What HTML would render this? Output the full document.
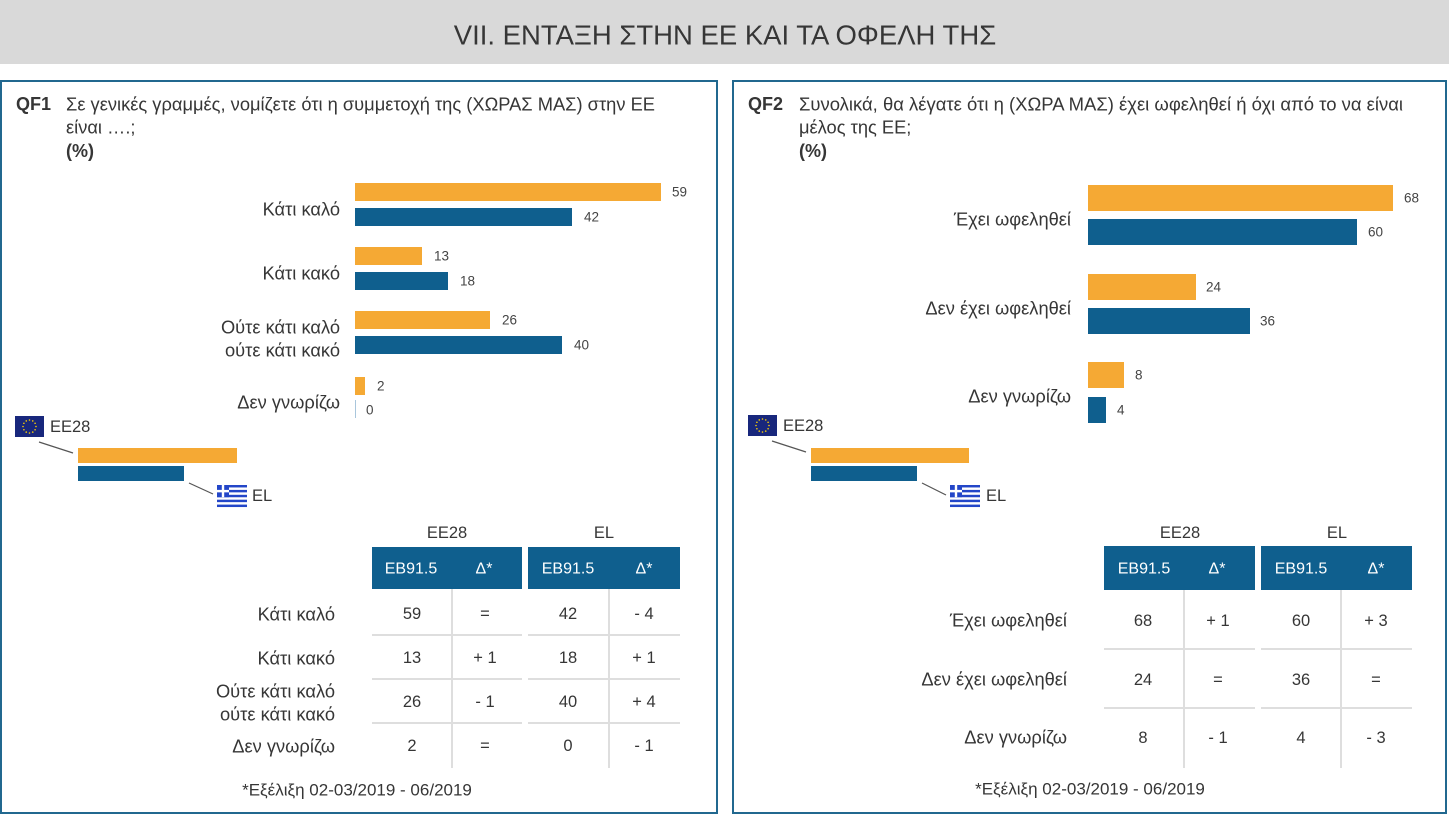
<!DOCTYPE html>
<html><head><meta charset="utf-8"><style>
html,body{margin:0;padding:0;background:#fff;}
body{width:1449px;height:815px;overflow:hidden;position:relative;}
svg{position:absolute;left:0;top:0;}
text{font-family:"Liberation Sans","DejaVu Sans",sans-serif;fill:#363636;}
.q{font-size:18.3px;}
.qb{font-size:18px;font-weight:bold;}
.b{font-weight:bold;}
.lab{font-size:18.3px;text-anchor:end;}
.val{font-size:13.5px;fill:#444;}
.tv{font-size:16.5px;text-anchor:middle;}
.th{font-size:16px;fill:#fff;text-anchor:middle;}
.fn{font-size:17px;text-anchor:middle;}
</style></head><body>
<svg width="1449" height="815" viewBox="0 0 1449 815" xmlns="http://www.w3.org/2000/svg">
<defs>
<g id="eu">
<rect x="0" y="0" width="29" height="21" fill="#18277c"/>
<g fill="#ffd200">
<circle cx="14.5" cy="4" r="0.8"/><circle cx="17.75" cy="4.9" r="0.8"/><circle cx="20.1" cy="7.25" r="0.8"/><circle cx="21" cy="10.5" r="0.8"/><circle cx="20.1" cy="13.75" r="0.8"/><circle cx="17.75" cy="16.1" r="0.8"/><circle cx="14.5" cy="17" r="0.8"/><circle cx="11.25" cy="16.1" r="0.8"/><circle cx="8.9" cy="13.75" r="0.8"/><circle cx="8" cy="10.5" r="0.8"/><circle cx="8.9" cy="7.25" r="0.8"/><circle cx="11.25" cy="4.9" r="0.8"/>
</g>
</g>
<g id="gr">
<rect x="0" y="0" width="30" height="22" fill="#fff"/>
<g fill="#2346c8">
<rect x="0" y="0" width="30" height="2.45"/><rect x="0" y="4.9" width="30" height="2.45"/><rect x="0" y="9.8" width="30" height="2.45"/><rect x="0" y="14.7" width="30" height="2.45"/><rect x="0" y="19.6" width="30" height="2.45"/>
<rect x="0" y="0" width="12" height="12.2"/>
</g>
<rect x="4.8" y="0" width="2.4" height="12.2" fill="#fff"/>
<rect x="0" y="4.9" width="12" height="2.45" fill="#fff"/>
</g>
</defs>

<!-- header -->
<rect x="0" y="0" width="1449" height="64" fill="#d9d9d9"/>
<text x="725" y="35" font-size="27.5" text-anchor="middle" dominant-baseline="central" fill="#333">VII. ΕΝΤΑΞΗ ΣΤΗΝ ΕΕ ΚΑΙ ΤΑ ΟΦΕΛΗ ΤΗΣ</text>

<!-- panels -->
<rect x="1" y="81" width="716" height="732" fill="none" stroke="#21688f" stroke-width="2"/>
<rect x="733" y="81" width="713" height="732" fill="none" stroke="#21688f" stroke-width="2"/>

<!-- LEFT PANEL -->
<text class="qb" x="16" y="104" dominant-baseline="central">QF1</text>
<text class="q" x="66" y="104" dominant-baseline="central" textLength="589" lengthAdjust="spacingAndGlyphs">Σε γενικές γραμμές, νομίζετε ότι η συμμετοχή της (ΧΩΡΑΣ ΜΑΣ) στην ΕΕ</text>
<text class="q" x="66" y="127" dominant-baseline="central">είναι ….;</text>
<text class="qb" x="66" y="151" dominant-baseline="central">(%)</text>

<rect x="355" y="183" width="306" height="18" fill="#f5a934"/>
<rect x="355" y="208" width="217" height="18" fill="#0f5f8e"/>
<rect x="355" y="247" width="67" height="18" fill="#f5a934"/>
<rect x="355" y="272" width="93" height="18" fill="#0f5f8e"/>
<rect x="355" y="311" width="135" height="18" fill="#f5a934"/>
<rect x="355" y="336" width="207" height="18" fill="#0f5f8e"/>
<rect x="355" y="377" width="10" height="18" fill="#f5a934"/>
<rect x="355" y="400" width="1" height="18" fill="#a9c6dc"/>

<text class="val" x="672" y="192" dominant-baseline="central">59</text>
<text class="val" x="584" y="217" dominant-baseline="central">42</text>
<text class="val" x="434" y="256" dominant-baseline="central">13</text>
<text class="val" x="460" y="281" dominant-baseline="central">18</text>
<text class="val" x="502" y="320" dominant-baseline="central">26</text>
<text class="val" x="574" y="345" dominant-baseline="central">40</text>
<text class="val" x="377" y="386" dominant-baseline="central">2</text>
<text class="val" x="366" y="410" dominant-baseline="central">0</text>

<text class="lab" x="340" y="209" dominant-baseline="central">Κάτι καλό</text>
<text class="lab" x="340" y="273" dominant-baseline="central">Κάτι κακό</text>
<text class="lab" x="340" y="327" dominant-baseline="central">Ούτε κάτι καλό</text>
<text class="lab" x="340" y="350" dominant-baseline="central">ούτε κάτι κακό</text>
<text class="lab" x="340" y="402" dominant-baseline="central">Δεν γνωρίζω</text>

<!-- left legend -->
<use href="#eu" x="15" y="416"/>
<text x="50" y="427" font-size="16.5" dominant-baseline="central">EE28</text>
<line x1="39" y1="442" x2="73" y2="453" stroke="#555" stroke-width="1.2"/>
<rect x="78" y="448" width="159" height="15" fill="#f5a934"/>
<rect x="78" y="466" width="106" height="15" fill="#0f5f8e"/>
<line x1="189" y1="483" x2="213" y2="494" stroke="#555" stroke-width="1.2"/>
<use href="#gr" x="217" y="485"/>
<text x="252" y="496" font-size="16.5" dominant-baseline="central">EL</text>

<!-- left table -->
<text class="tv" x="447" y="533" dominant-baseline="central">EE28</text>
<text class="tv" x="604" y="533" dominant-baseline="central">EL</text>
<rect x="372" y="547" width="150" height="42" fill="#0f5f8e"/>
<rect x="528" y="547" width="152" height="42" fill="#0f5f8e"/>
<text class="th" x="411" y="569" dominant-baseline="central">EB91.5</text>
<text class="th" x="484" y="569" dominant-baseline="central">Δ*</text>
<text class="th" x="568" y="569" dominant-baseline="central">EB91.5</text>
<text class="th" x="644" y="569" dominant-baseline="central">Δ*</text>
<g fill="#dedede">
<rect x="451" y="589" width="2" height="179"/>
<rect x="608" y="589" width="2" height="179"/>
<rect x="372" y="634" width="150" height="2"/><rect x="528" y="634" width="152" height="2"/>
<rect x="372" y="678" width="150" height="2"/><rect x="528" y="678" width="152" height="2"/>
<rect x="372" y="722" width="150" height="2"/><rect x="528" y="722" width="152" height="2"/>
</g>
<text class="lab" x="335" y="614" dominant-baseline="central">Κάτι καλό</text>
<text class="lab" x="335" y="658" dominant-baseline="central">Κάτι κακό</text>
<text class="lab" x="335" y="691" dominant-baseline="central">Ούτε κάτι καλό</text>
<text class="lab" x="335" y="714" dominant-baseline="central">ούτε κάτι κακό</text>
<text class="lab" x="335" y="746" dominant-baseline="central">Δεν γνωρίζω</text>

<text class="tv" x="412" y="614" dominant-baseline="central">59</text>
<text class="tv" x="485" y="614" dominant-baseline="central">=</text>
<text class="tv" x="568" y="614" dominant-baseline="central">42</text>
<text class="tv" x="644" y="614" dominant-baseline="central">- 4</text>
<text class="tv" x="412" y="658" dominant-baseline="central">13</text>
<text class="tv" x="485" y="658" dominant-baseline="central">+ 1</text>
<text class="tv" x="568" y="658" dominant-baseline="central">18</text>
<text class="tv" x="644" y="658" dominant-baseline="central">+ 1</text>
<text class="tv" x="412" y="702" dominant-baseline="central">26</text>
<text class="tv" x="485" y="702" dominant-baseline="central">- 1</text>
<text class="tv" x="568" y="702" dominant-baseline="central">40</text>
<text class="tv" x="644" y="702" dominant-baseline="central">+ 4</text>
<text class="tv" x="412" y="746" dominant-baseline="central">2</text>
<text class="tv" x="485" y="746" dominant-baseline="central">=</text>
<text class="tv" x="568" y="746" dominant-baseline="central">0</text>
<text class="tv" x="644" y="746" dominant-baseline="central">- 1</text>

<text class="fn" x="357" y="790" dominant-baseline="central">*Εξέλιξη 02-03/2019 - 06/2019</text>

<!-- RIGHT PANEL -->
<text class="qb" x="748" y="104" dominant-baseline="central">QF2</text>
<text class="q" x="799" y="104" dominant-baseline="central" textLength="604" lengthAdjust="spacingAndGlyphs">Συνολικά, θα λέγατε ότι η (ΧΩΡΑ ΜΑΣ) έχει ωφεληθεί ή όχι από το να είναι</text>
<text class="q" x="799" y="127" dominant-baseline="central">μέλος της ΕΕ;</text>
<text class="qb" x="799" y="151" dominant-baseline="central">(%)</text>

<rect x="1088" y="185" width="305" height="26" fill="#f5a934"/>
<rect x="1088" y="219" width="269" height="26" fill="#0f5f8e"/>
<rect x="1088" y="274" width="108" height="26" fill="#f5a934"/>
<rect x="1088" y="308" width="162" height="26" fill="#0f5f8e"/>
<rect x="1088" y="362" width="36" height="26" fill="#f5a934"/>
<rect x="1088" y="397" width="18" height="26" fill="#0f5f8e"/>

<text class="val" x="1404" y="198" dominant-baseline="central">68</text>
<text class="val" x="1368" y="232" dominant-baseline="central">60</text>
<text class="val" x="1206" y="287" dominant-baseline="central">24</text>
<text class="val" x="1260" y="321" dominant-baseline="central">36</text>
<text class="val" x="1135" y="375" dominant-baseline="central">8</text>
<text class="val" x="1117" y="410" dominant-baseline="central">4</text>

<text class="lab" x="1071" y="219" dominant-baseline="central">Έχει ωφεληθεί</text>
<text class="lab" x="1071" y="308" dominant-baseline="central">Δεν έχει ωφεληθεί</text>
<text class="lab" x="1071" y="396" dominant-baseline="central">Δεν γνωρίζω</text>

<!-- right legend -->
<use href="#eu" x="748" y="415"/>
<text x="783" y="426" font-size="16.5" dominant-baseline="central">EE28</text>
<line x1="772" y1="441" x2="806" y2="452" stroke="#555" stroke-width="1.2"/>
<rect x="811" y="448" width="158" height="15" fill="#f5a934"/>
<rect x="811" y="466" width="106" height="15" fill="#0f5f8e"/>
<line x1="922" y1="483" x2="946" y2="495" stroke="#555" stroke-width="1.2"/>
<use href="#gr" x="950" y="485"/>
<text x="986" y="496" font-size="16.5" dominant-baseline="central">EL</text>

<!-- right table -->
<text class="tv" x="1180" y="533" dominant-baseline="central">EE28</text>
<text class="tv" x="1337" y="533" dominant-baseline="central">EL</text>
<rect x="1104" y="546" width="151" height="44" fill="#0f5f8e"/>
<rect x="1261" y="546" width="151" height="44" fill="#0f5f8e"/>
<text class="th" x="1144" y="569" dominant-baseline="central">EB91.5</text>
<text class="th" x="1217" y="569" dominant-baseline="central">Δ*</text>
<text class="th" x="1301" y="569" dominant-baseline="central">EB91.5</text>
<text class="th" x="1376" y="569" dominant-baseline="central">Δ*</text>
<g fill="#dedede">
<rect x="1183" y="590" width="2" height="178"/>
<rect x="1340" y="590" width="2" height="178"/>
<rect x="1104" y="648" width="151" height="2"/><rect x="1261" y="648" width="151" height="2"/>
<rect x="1104" y="707" width="151" height="2"/><rect x="1261" y="707" width="151" height="2"/>
</g>
<text class="lab" x="1067" y="620" dominant-baseline="central">Έχει ωφεληθεί</text>
<text class="lab" x="1067" y="679" dominant-baseline="central">Δεν έχει ωφεληθεί</text>
<text class="lab" x="1067" y="737" dominant-baseline="central">Δεν γνωρίζω</text>

<text class="tv" x="1143" y="621" dominant-baseline="central">68</text>
<text class="tv" x="1218" y="621" dominant-baseline="central">+ 1</text>
<text class="tv" x="1301" y="621" dominant-baseline="central">60</text>
<text class="tv" x="1376" y="621" dominant-baseline="central">+ 3</text>
<text class="tv" x="1143" y="680" dominant-baseline="central">24</text>
<text class="tv" x="1218" y="680" dominant-baseline="central">=</text>
<text class="tv" x="1301" y="680" dominant-baseline="central">36</text>
<text class="tv" x="1376" y="680" dominant-baseline="central">=</text>
<text class="tv" x="1143" y="738" dominant-baseline="central">8</text>
<text class="tv" x="1218" y="738" dominant-baseline="central">- 1</text>
<text class="tv" x="1301" y="738" dominant-baseline="central">4</text>
<text class="tv" x="1376" y="738" dominant-baseline="central">- 3</text>

<text class="fn" x="1090" y="789" dominant-baseline="central">*Εξέλιξη 02-03/2019 - 06/2019</text>
</svg>
</body></html>
